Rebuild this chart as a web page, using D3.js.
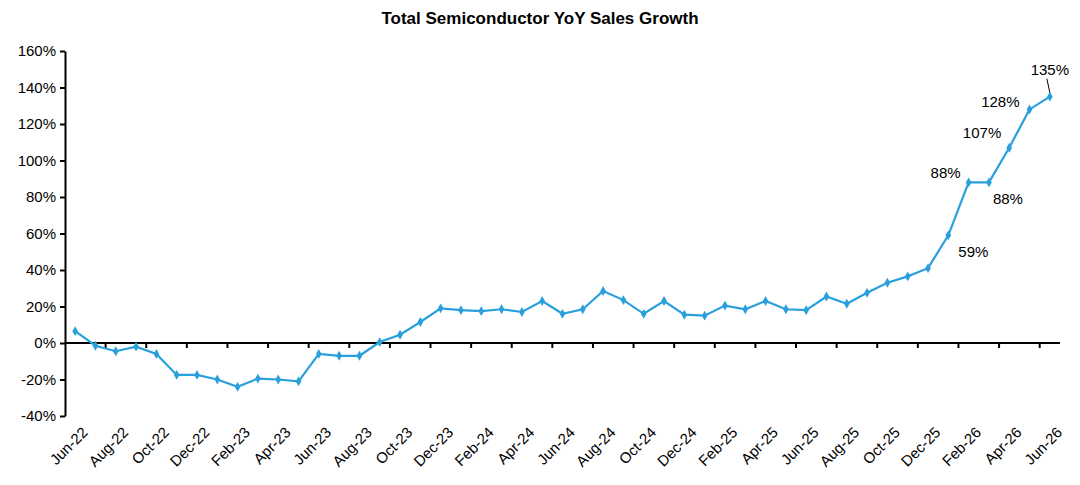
<!DOCTYPE html>
<html><head><meta charset="utf-8">
<script src="https://cdn.jsdelivr.net/npm/d3@7"></script>
<style>body{margin:0;background:#fff;font-family:"Liberation Sans",Arial,sans-serif}</style>
</head><body><div id="chart"></div>
<script>
var months = ["Jun-22","Jul-22","Aug-22","Sep-22","Oct-22","Nov-22","Dec-22","Jan-23","Feb-23","Mar-23","Apr-23","May-23",
  "Jun-23","Jul-23","Aug-23","Sep-23","Oct-23","Nov-23","Dec-23","Jan-24","Feb-24","Mar-24","Apr-24","May-24",
  "Jun-24","Jul-24","Aug-24","Sep-24","Oct-24","Nov-24","Dec-24","Jan-25","Feb-25","Mar-25","Apr-25","May-25",
  "Jun-25","Jul-25","Aug-25","Sep-25","Oct-25","Nov-25","Dec-25","Jan-26","Feb-26","Mar-26","Apr-26","May-26","Jun-26"];
var growth = [6.5,-1.5,-4.5,-2,-6,-17.5,-17.5,-20,-24,-19.5,-20,-21,
  -6,-7,-7,0.5,4.5,11.5,19,18,17.5,18.5,17,23,
  16,18.5,28.5,23.5,16,23,15.5,15,20.5,18.5,23,18.5,
  18,25.5,21.5,27.5,33,36.5,41,59,88,88,107,128,135];
var yTicks = [-40,-20,0,20,40,60,80,100,120,140,160];
// which points get a value label, and where it sits relative to the point
var labelled = [
  {m:"Jan-26", dx:10, dy:22, anchor:"start"},
  {m:"Feb-26", dx:-8, dy:-4, anchor:"end"},
  {m:"Mar-26", dx:4, dy:22, anchor:"start"},
  {m:"Apr-26", dx:-8, dy:-10, anchor:"end"},
  {m:"May-26", dx:-10, dy:-2, anchor:"end"},
  {m:"Jun-26", dx:0, dy:-22, anchor:"middle"}
];

var W = 1080, H = 485, padL = 65, padR = 1060, padT = 51, padB = 416;
var svg = d3.select("#chart").append("svg").attr("width", W).attr("height", H);

svg.append("text").attr("x", 540).attr("y", 24).attr("text-anchor","middle")
  .style("font-weight","bold").style("font-size","17px").text("Total Semiconductor YoY Sales Growth");

var x = d3.scaleBand().domain(months).range([padL, padR]);
var y = d3.scaleLinear().domain([-40,160]).range([padB, padT]);

// y axis
var yAxis = svg.append("g").attr("transform","translate(" + padL + ",0)")
  .call(d3.axisLeft(y).tickValues(yTicks).tickSize(5).tickSizeOuter(0).tickFormat(function(d){ return d + "%"; }));
yAxis.select(".domain").attr("stroke","#000").attr("stroke-width",2);
yAxis.selectAll(".tick line").attr("stroke-width",2);
yAxis.selectAll("text").style("font-size","15px").style("font-family","Liberation Sans, Arial").attr("fill","#000").attr("x",-9);

// x axis at zero with ticks every two months at band boundaries
var g0 = svg.append("g");
g0.append("line").attr("x1",padL).attr("x2",padR).attr("y1",y(0)).attr("y2",y(0)).attr("stroke","#000").attr("stroke-width",2);
months.forEach(function(m,i){
  if (i % 2 === 0 && i > 0) {
    g0.append("line").attr("x1",x(m)).attr("x2",x(m)).attr("y1",y(0)).attr("y2",y(0)+5).attr("stroke","#000").attr("stroke-width",2);
  }
  if (i % 2 === 0) {
    var cx = x(m) + x.bandwidth()/2;
    svg.append("text").attr("transform","translate(" + (cx+6) + "," + (padB+10) + ") rotate(-45)")
      .attr("text-anchor","end").attr("dy","0.7em").style("font-size","15px").text(m);
  }
});

var line = d3.line().x(function(d,i){ return x(months[i]) + x.bandwidth()/2; }).y(function(d){ return y(d); });
svg.append("path").datum(growth).attr("d", line).attr("fill","none").attr("stroke","#29a0dc").attr("stroke-width",2.2);
svg.selectAll(".pt").data(growth).enter().append("path").attr("class","pt")
  .attr("d", d3.symbol(d3.symbolDiamond, 28))
  .attr("transform", function(d,i){ return "translate(" + (x(months[i]) + x.bandwidth()/2) + "," + y(d) + ")"; })
  .attr("fill","#29a0dc");

labelled.forEach(function(l){
  var i = months.indexOf(l.m), v = growth[i];
  var px = x(l.m) + x.bandwidth()/2, py = y(v);
  svg.append("text").attr("x", px + l.dx).attr("y", py + l.dy).attr("text-anchor", l.anchor)
    .style("font-size","15px").text(Math.round(v) + "%");
  if (l.m === "Jun-26") svg.append("line").attr("x1",px-3).attr("y1",py-18).attr("x2",px).attr("y2",py-4).attr("stroke","#000");
});
</script></body></html>
